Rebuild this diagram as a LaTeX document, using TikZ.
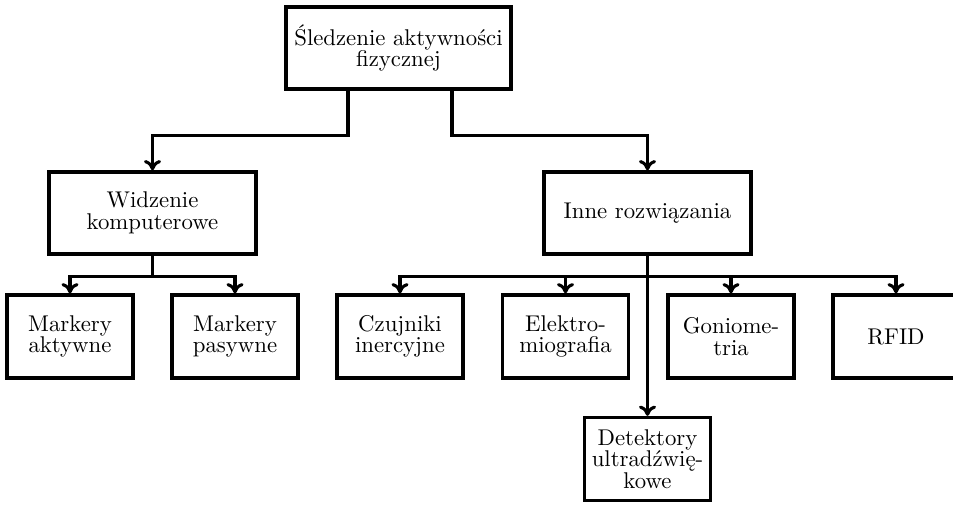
\documentclass[tikz,border=0pt]{standalone}
\usepackage{fontspec}
\usetikzlibrary{arrows.meta}
\begin{document}
\begin{tikzpicture}[x=0.439pt,y=-0.439pt,
  base/.style={draw, line width=1.5pt, align=center, inner sep=1.5pt,
    font=\fontsize{10}{9.4}\selectfont},
  topbox/.style={base, minimum width=98.8pt, minimum height=36pt},
  midbox/.style={base, minimum width=90.9pt, minimum height=36pt},
  leafbox/.style={base, minimum width=55.3pt, minimum height=36.4pt},
  arr/.style={line width=1.35pt, -{To[length=4.5pt,width=7.5pt]}}]
\useasboundingbox (0,0) rectangle (953,504);
\clip (0,0) rectangle (953,504);
\node[topbox] (top) at (398.5,48) {Śledzenie aktywności\\fizycznej};
\node[midbox] (wid) at (152.5,213) {Widzenie\\komputerowe};
\node[midbox] (inne) at (647.5,213) {Inne rozwiązania};
\node[leafbox] (ma) at (70,336.5) {Markery\\aktywne};
\node[leafbox] (mp) at (235,336.5) {Markery\\pasywne};
\node[leafbox] (czu) at (400,336.5) {Czujniki\\inercyjne};
\node[leafbox] (emg) at (565.5,336.5) {Elektro-\\miografia};
\node[leafbox] (gon) at (731,336.5) {Goniome-\\tria};
\node[leafbox] (rfid) at (896,336.5) {RFID};
\node[leafbox] (det) at (647.5,459) {Detektory\\ultradźwię-\\kowe};
\draw[arr] ([xshift=-50.5*0.439pt]top.south) -- ++(0,45) -| (wid.north);
\draw[arr] ([xshift=53.5*0.439pt]top.south) -- ++(0,45) -| (inne.north);
\draw[arr] (wid.south) -- ++(0,21) -| (ma.north);
\draw[arr] (wid.south) -- ++(0,21) -| (mp.north);
\draw[arr] (inne.south) -- ++(0,21) -| (czu.north);
\draw[arr] (inne.south) -- ++(0,21) -| (emg.north);
\draw[arr] (inne.south) -- ++(0,21) -| (gon.north);
\draw[arr] (inne.south) -- ++(0,21) -| (rfid.north);
\draw[arr] (inne.south) -- (det.north);
\end{tikzpicture}
\end{document}
